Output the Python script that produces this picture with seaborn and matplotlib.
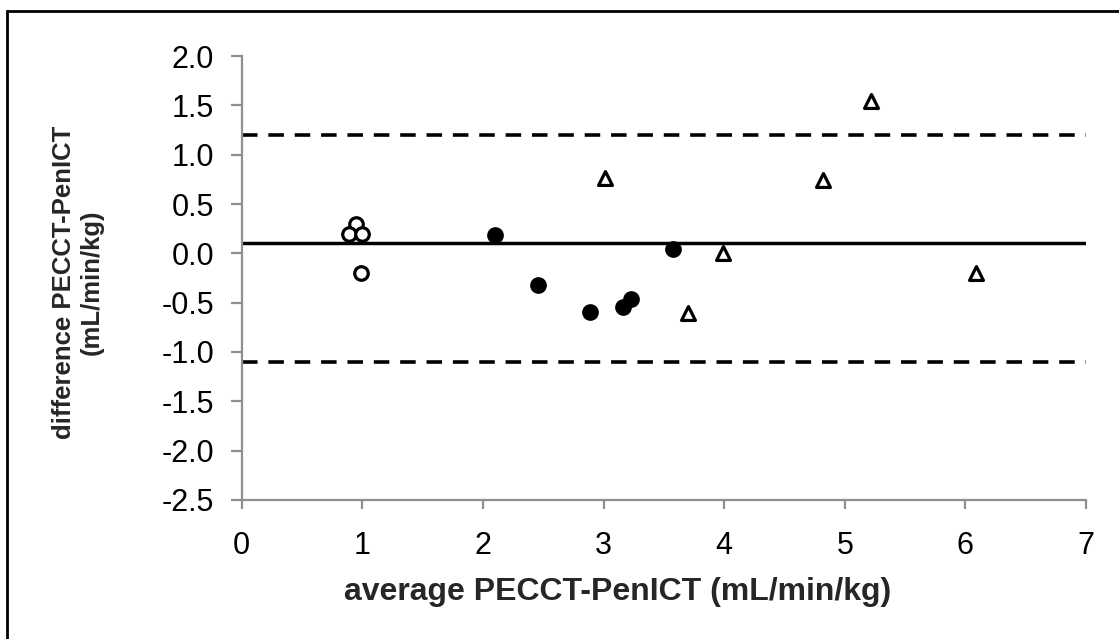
import matplotlib
matplotlib.use("Agg")
import matplotlib.pyplot as plt
import matplotlib.patches as mpatches
import seaborn as sns
import pandas as pd

# Bland-Altman data: average vs difference of PECCT and PenICT (mL/min/kg)
open_avg = [0.95, 0.89, 1.00, 0.99]
open_diff = [0.30, 0.20, 0.20, -0.20]

filled_avg = [2.10, 3.58, 2.46, 2.89, 3.16, 3.23]
filled_diff = [0.19, 0.04, -0.32, -0.60, -0.54, -0.46]

tri_avg = [3.01, 3.99, 3.70, 5.22, 4.82, 6.09]
tri_diff = [0.76, 0.00, -0.61, 1.54, 0.74, -0.20]

mean_diff = 0.10
upper_loa = 1.20
lower_loa = -1.10

x_ticks = [0, 1, 2, 3, 4, 5, 6, 7]
y_ticks = [2.0, 1.5, 1.0, 0.5, 0.0, -0.5, -1.0, -1.5, -2.0, -2.5]

df = pd.DataFrame({
    "avg": open_avg + filled_avg + tri_avg,
    "diff": open_diff + filled_diff + tri_diff,
    "group": ["open"] * len(open_avg) + ["filled"] * len(filled_avg) + ["tri"] * len(tri_avg),
})

sns.set_theme(style="white")
plt.rcParams["font.family"] = ["Liberation Sans", "DejaVu Sans"]

W, H = 1119, 639
fig = plt.figure(figsize=(W / 100, H / 100), dpi=100)
# plot area in pixels: x 241.7..1086, y 56..499.8 (from top)
ax = fig.add_axes([241.7 / W, 1 - 499.8 / H, (1086 - 241.7) / W, (499.8 - 56.1) / H])

# reference lines: mean difference and limits of agreement
ax.plot([0, 7], [mean_diff, mean_diff], color="black", lw=2.5,
        solid_capstyle="butt", zorder=2)
for lim in (upper_loa, lower_loa):
    ax.plot([0, 7], [lim, lim], color="black", lw=2.6, dashes=(4.3, 3.0),
            dash_capstyle="butt", zorder=2)

sns.scatterplot(data=df[df.group == "open"], x="avg", y="diff", marker="o",
                s=95, facecolor="white", edgecolor="black", linewidth=2.3,
                ax=ax, zorder=3, legend=False)
sns.scatterplot(data=df[df.group == "filled"], x="avg", y="diff", marker="o",
                s=145, color="black", edgecolor="black", linewidth=0,
                ax=ax, zorder=3, legend=False)
sns.scatterplot(data=df[df.group == "tri"], x="avg", y="diff", marker="^",
                s=100, facecolor="white", edgecolor="black", linewidth=2.3,
                ax=ax, zorder=3, legend=False)

ax.set_xlim(0, 7)
ax.set_ylim(-2.5, 2.0)
ax.set_xticks(x_ticks)
ax.set_xticklabels([str(t) for t in x_ticks])
ax.set_yticks(y_ticks)
ax.set_yticklabels([f"{t:.1f}" for t in y_ticks])

for side in ("top", "right"):
    ax.spines[side].set_visible(False)
for side in ("left", "bottom"):
    ax.spines[side].set_color("#8f8f8f")
    ax.spines[side].set_linewidth(1.6)
ax.tick_params(axis="both", which="both", colors="#8f8f8f", width=1.6,
               labelcolor="black", labelsize=22)
ax.tick_params(axis="y", direction="out", length=7.7, left=True, pad=12)
ax.tick_params(axis="x", direction="out", length=6.5, bottom=True, pad=16)
ax.grid(False)

ax.set_xlabel("average PECCT-PenICT (mL/min/kg)", fontsize=23, fontweight="bold")
ax.xaxis.set_label_coords(0.445, -0.208)
ax.xaxis.label.set_verticalalignment("center")

ax.set_ylabel("difference PECCT-PenICT\n(mL/min/kg)", fontsize=18.5, fontweight="bold",
              linespacing=1.2)
ax.yaxis.set_label_coords((78 - 241.7) / (1086 - 241.7), 0.49)
ax.yaxis.label.set_verticalalignment("center")

# outer frame around the chart
fig.patches.append(mpatches.Rectangle((7.3 / W, -0.05), 1.2, 1 - 11 / H + 0.05,
                                      transform=fig.transFigure, fill=False,
                                      edgecolor="black", lw=2.0))

fig.savefig("out.png", dpi=100)
